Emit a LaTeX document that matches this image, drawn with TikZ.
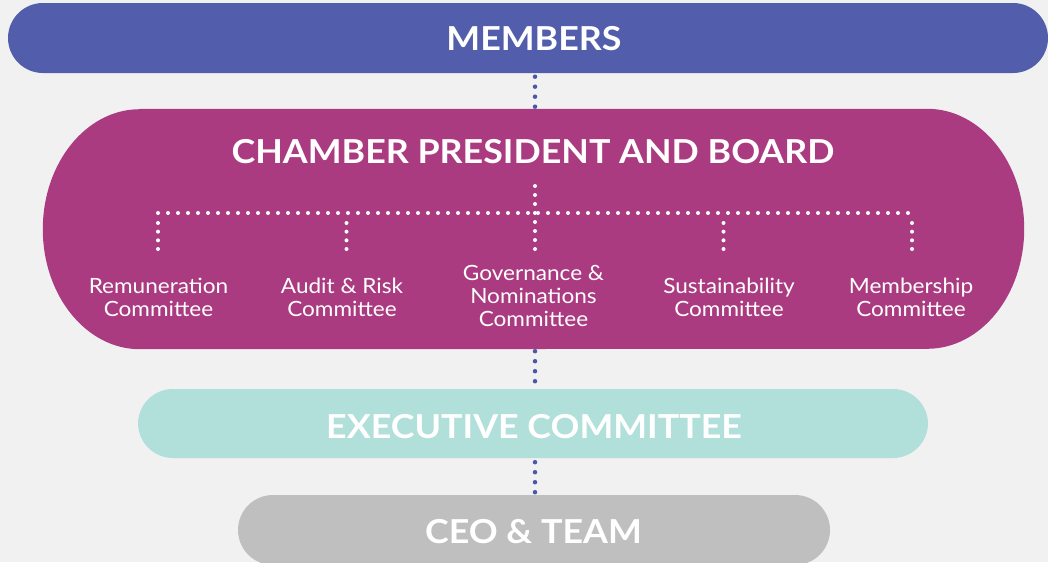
\documentclass[tikz,border=0pt]{standalone}
\usepackage{fontspec}
\setmainfont{Lato}
\newfontfamily\titlefont[FakeStretch=1.085]{Lato Bold}
\newfontfamily\commfont[FakeStretch=1.075]{Lato}
\definecolor{bgc}{HTML}{F1F1F1}
\definecolor{membc}{HTML}{525EAB}
\definecolor{boardc}{HTML}{AB3B80}
\definecolor{execc}{HTML}{B1DFDA}
\definecolor{ceoc}{HTML}{BFBFBF}
\definecolor{dotblue}{HTML}{4B57A8}
\begin{document}
\begin{tikzpicture}[x=1pt,y=-1pt,
  pill/.style={rectangle, rounded corners=35pt, inner sep=0pt, minimum height=70pt},
  titletext/.style={text=white, font=\titlefont\fontsize{33}{40}\selectfont, inner sep=0pt, anchor=base},
  commtext/.style={text=white, font=\commfont\fontsize{21}{23}\selectfont, inner sep=0pt, anchor=base},
  bluedots/.style={draw=dotblue, line width=4.5pt, line cap=round, dash pattern=on 0pt off 10pt},
  whitedots/.style={draw=white, line width=4pt, line cap=round, dash pattern=on 0pt off 10pt},
  dropdots/.style={draw=white, line width=4pt, line cap=round, dash pattern=on 0pt off 8.667pt}]
\useasboundingbox (0,0) rectangle (1048,562);
\clip (0,0) rectangle (1048,562);
\fill[bgc] (0,0) rectangle (1048,562);

% bars
\node[pill, fill=membc, minimum width=1040pt] (members) at (528,38) {};
\node[rectangle, inner sep=0pt, minimum width=981pt, minimum height=240pt] (board) at (533.5,229) {};
\fill[boardc] ([xshift=97pt]board.north west) -- ([xshift=-97pt]board.north east)
  arc[start angle=90, end angle=-90, x radius=97pt, y radius=120pt]
  -- ([xshift=97pt]board.south west)
  arc[start angle=-90, end angle=-270, x radius=97pt, y radius=120pt] -- cycle;
\node[pill, fill=execc, minimum width=790pt, minimum height=69pt] (exec) at (533,423.5) {};
\node[pill, fill=ceoc, minimum width=592pt] (ceo) at (534,530) {};

% titles
\node[titletext] (memberslbl) at (534,50) {MEMBERS};
\node[titletext] (boardlbl) at (533,163) {CHAMBER PRESIDENT AND BOARD};
\node[titletext] (execlbl) at (534,438) {EXECUTIVE COMMITTEE};
\node[titletext] (ceolbl) at (533.5,543) {CEO \& TEAM};

% committees
\node[commtext] (rem) at (158.5,293) {\begin{tabular}[t]{@{}c@{}}Remuneration\\Committee\end{tabular}};
\node[commtext] (audit) at (342,293) {\begin{tabular}[t]{@{}c@{}}Audit \& Risk\\Committee\end{tabular}};
\node[commtext] (gov) at (533.5,280) {\begin{tabular}[t]{@{}c@{}}Governance \&\\Nominations\\Committee\end{tabular}};
\node[commtext] (sust) at (729,293) {\begin{tabular}[t]{@{}c@{}}Sustainability\\Committee\end{tabular}};
\node[commtext] (memc) at (911,293) {\begin{tabular}[t]{@{}c@{}}Membership\\Committee\end{tabular}};

% blue connectors
\coordinate (axis) at (535,0);
\draw[bluedots] ([yshift=-3.5pt]members.south -| axis) -- ([yshift=2pt]board.north -| axis);
\draw[bluedots] ([yshift=-2pt]board.south -| axis) -- ([yshift=7.5pt]exec.north -| axis);
\draw[bluedots] ([yshift=-4pt]exec.south -| axis) -- ([yshift=2.5pt]ceo.north -| axis);

% white tree
\coordinate (hubtop) at (535,186);
\coordinate (barL) at (158,213);
\coordinate (barR) at (912.5,213);
\coordinate (t1) at (158,223);   \coordinate (b1) at (158,249.5);
\coordinate (t2) at (346.5,223); \coordinate (b2) at (346.5,249.5);
\coordinate (b3) at (535,249.5);
\coordinate (t4) at (723.5,223); \coordinate (b4) at (723.5,249.5);
\coordinate (t5) at (912,223);   \coordinate (b5) at (912,249.5);
\draw[whitedots] (barL) -- (barR);
\draw[draw=white, line width=4pt, line cap=round, dash pattern=on 0pt off 9pt] (hubtop) -- (b3);
\draw[dropdots] (t1) -- (b1);
\draw[dropdots] (t2) -- (b2);
\draw[dropdots] (t4) -- (b4);
\draw[dropdots] (t5) -- (b5);
\end{tikzpicture}
\end{document}
